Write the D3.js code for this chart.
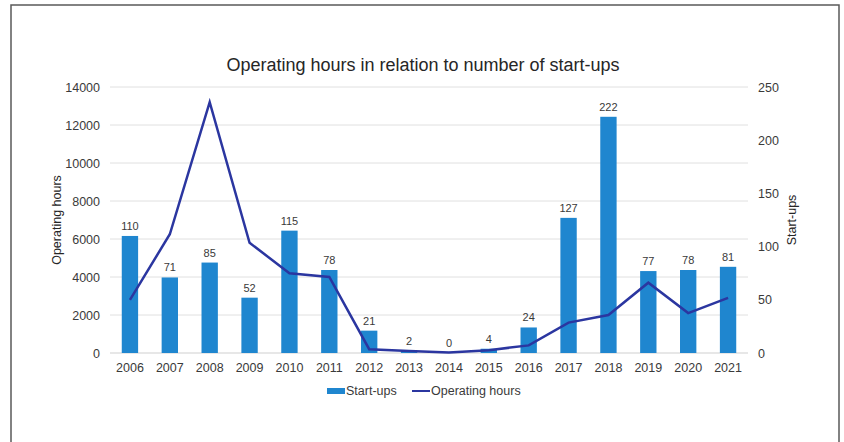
<!DOCTYPE html>
<html>
<head>
<meta charset="utf-8">
<script src="https://cdn.jsdelivr.net/npm/d3@7"></script>
<style>
  body { margin: 0; background: #fff; }
  svg { display: block; font-family: "Liberation Sans", Arial, sans-serif; }
</style>
</head>
<body>
<svg id="chart" width="844" height="442"></svg>
<script>
var years = ["2006", "2007", "2008", "2009", "2010", "2011", "2012", "2013",
  "2014", "2015", "2016", "2017", "2018", "2019", "2020", "2021"];
var startUps = [110, 71, 85, 52, 115, 78, 21, 2, 0, 4, 24, 127, 222, 77, 78, 81];
var operatingHours = [2800, 6250, 13200, 5800, 4200, 4000, 200, 100, 20, 150, 400, 1600, 2000, 3700, 2100, 2900];
var hoursTicks = [0, 2000, 4000, 6000, 8000, 10000, 12000, 14000];
var startTicks = [0, 50, 100, 150, 200, 250];

var translate = function(x, y) { return "translate(" + x + "," + y + ")"; };

var margin = { top: 87, right: 96, bottom: 89, left: 110 };
var svg = d3.select("#chart");
var width = 844 - margin.left - margin.right;
var height = 442 - margin.top - margin.bottom;

// frame round the chart (bottom edge is cut off in the original)
svg.append("path")
  .attr("d", "M11,442 V5 H839 V442")
  .attr("fill", "none")
  .attr("stroke", "#5a5a5a")
  .attr("stroke-width", 1.5);

var x = d3.scaleBand().domain(years).range([0, width]).padding(0);
var yLeft = d3.scaleLinear().domain([0, 14000]).range([height, 0]);
var yRight = d3.scaleLinear().domain([0, 250]).range([height, 0]);

var plot = svg.append("g").attr("transform", translate(margin.left, margin.top));

// gridlines
plot.selectAll(".grid")
  .data(hoursTicks)
  .enter().append("line")
  .attr("class", "grid")
  .attr("x1", 0)
  .attr("x2", width)
  .attr("y1", function(d) { return yLeft(d); })
  .attr("y2", function(d) { return yLeft(d); })
  .attr("stroke", function(d) { return d === 0 ? "#cfcfcf" : "#e0e0e0"; })
  .attr("stroke-width", 1);

// left axis
var gl = plot.append("g")
  .call(d3.axisLeft(yLeft).tickValues(hoursTicks).tickSize(0).tickPadding(10).tickFormat(d3.format("d")));
gl.select(".domain").remove();
gl.selectAll("text").style("font-size", "12.5px").attr("fill", "#3a3a3a");

// right axis
var gr = plot.append("g")
  .attr("transform", translate(width, 0))
  .call(d3.axisRight(yRight).tickValues(startTicks).tickSize(0).tickPadding(10));
gr.select(".domain").remove();
gr.selectAll("text").style("font-size", "12.5px").attr("fill", "#3a3a3a");

// x axis
var gx = plot.append("g")
  .attr("transform", translate(0, height))
  .call(d3.axisBottom(x).tickSize(0).tickPadding(10));
gx.select(".domain").remove();
gx.selectAll("text").style("font-size", "12.5px").attr("fill", "#3a3a3a");

// bars
var barW = x.bandwidth() * 0.41;
plot.selectAll(".bar")
  .data(startUps)
  .enter().append("rect")
  .attr("class", "bar")
  .attr("x", function(d, i) { return x(years[i]) + (x.bandwidth() - barW) / 2; })
  .attr("y", function(d) { return yRight(d); })
  .attr("width", barW)
  .attr("height", function(d) { return height - yRight(d); })
  .attr("fill", "#1f86cf");

plot.selectAll(".label")
  .data(startUps)
  .enter().append("text")
  .attr("class", "label")
  .attr("x", function(d, i) { return x(years[i]) + x.bandwidth() / 2; })
  .attr("y", function(d) { return yRight(d) - 6; })
  .attr("text-anchor", "middle")
  .style("font-size", "11px")
  .attr("fill", "#3a3a3a")
  .text(function(d) { return d; });

// operating hours line
var line = d3.line()
  .x(function(d, i) { return x(years[i]) + x.bandwidth() / 2; })
  .y(function(d) { return yLeft(d); });

plot.append("path")
  .datum(operatingHours)
  .attr("d", line)
  .attr("fill", "none")
  .attr("stroke", "#2b36a0")
  .attr("stroke-width", 2.5)
  .attr("stroke-linejoin", "miter");

// title
svg.append("text")
  .attr("x", 423)
  .attr("y", 71)
  .attr("text-anchor", "middle")
  .style("font-size", "18px")
  .attr("fill", "#262626")
  .text("Operating hours in relation to number of start-ups");

// axis titles
svg.append("text")
  .attr("transform", translate(57, margin.top + height / 2) + " rotate(-90)")
  .attr("text-anchor", "middle")
  .attr("dominant-baseline", "central")
  .style("font-size", "12.5px")
  .attr("fill", "#262626")
  .text("Operating hours");

svg.append("text")
  .attr("transform", translate(792, margin.top + height / 2) + " rotate(-90)")
  .attr("text-anchor", "middle")
  .attr("dominant-baseline", "central")
  .style("font-size", "12.5px")
  .attr("fill", "#262626")
  .text("Start-ups");

// legend
var legend = svg.append("g").attr("transform", translate(0, 391));
legend.append("rect")
  .attr("x", 327).attr("y", -3)
  .attr("width", 18).attr("height", 6)
  .attr("fill", "#1f86cf");
legend.append("text")
  .attr("x", 346).attr("y", 0)
  .attr("dominant-baseline", "central")
  .style("font-size", "12.5px")
  .attr("fill", "#3a3a3a")
  .text("Start-ups");
legend.append("line")
  .attr("x1", 412).attr("x2", 430)
  .attr("y1", 0).attr("y2", 0)
  .attr("stroke", "#2b36a0")
  .attr("stroke-width", 2);
legend.append("text")
  .attr("x", 431).attr("y", 0)
  .attr("dominant-baseline", "central")
  .style("font-size", "12.5px")
  .attr("fill", "#3a3a3a")
  .text("Operating hours");
</script>
</body>
</html>
